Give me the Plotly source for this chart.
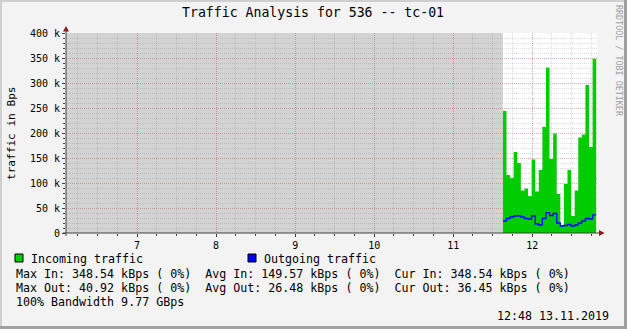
import plotly.graph_objects as go

# ---- data (kB/s) ----
incoming_k = [244, 116, 110, 162, 140, 85, 89, 74, 147, 83, 126, 212, 331,
              148, 199, 78, 16, 98, 126, 34, 85, 191, 197, 296, 172, 348.54]
outgoing_k = [24, 29, 32, 34, 34, 32, 29, 28, 34, 18, 16, 29, 40.92,
              35, 39, 20, 14, 15, 17, 14, 16, 20, 24, 29, 28, 36.45]
data_start_h = 11.629          # hour of day when data starts
sample_step_h = 0.04542        # sample interval in hours
x_range_h = [6.10, 12.82]
hour_ticks = [7, 8, 9, 10, 11, 12]
y_ticks_k = [0, 50, 100, 150, 200, 250, 300, 350, 400]
y_tick_text = ["0", "50 k", "100 k", "150 k", "200 k", "250 k", "300 k", "350 k", "400 k"]

title = "Traffic Analysis for 536 -- tc-01"
y_title = "traffic in Bps"
legend_in = "Incoming traffic"
legend_out = "Outgoing traffic"
stats_lines = [
    "Max In: 348.54 kBps ( 0%)  Avg In: 149.57 kBps ( 0%)  Cur In: 348.54 kBps ( 0%)",
    "Max Out: 40.92 kBps ( 0%)  Avg Out: 26.48 kBps ( 0%)  Cur Out: 36.45 kBps ( 0%)",
    "100% Bandwidth 9.77 GBps",
]
stamp = "12:48 13.11.2019"
side_text = "RRDTOOL / TOBI OETIKER"

# ---- layout geometry (pixels) ----
W, H = 627, 329
L, R, T, B = 66, 597, 33, 233
FONT = "DejaVu Sans Mono"


def px(x, y):
    return (x - L) / (R - L), (B - y) / (B - T)


n = len(incoming_k)
xs = [data_start_h + i * sample_step_h for i in range(n + 1)]
yin = [v * 1000 for v in incoming_k] + [incoming_k[-1] * 1000]
yout = [v * 1000 for v in outgoing_k] + [outgoing_k[-1] * 1000]

fig = go.Figure()
fig.add_trace(go.Scatter(x=xs, y=yin, mode="lines", line=dict(shape="hv", width=0, color="#00CC00"),
                         fill="tozeroy", fillcolor="#00CC00", showlegend=False, hoverinfo="skip"))
fig.add_trace(go.Scatter(x=xs, y=yout, mode="lines", line=dict(shape="hv", width=1.3, color="#0000FF"),
                         showlegend=False, hoverinfo="skip"))

shapes = []
# unknown-data gray region
shapes.append(dict(type="rect", xref="x", yref="y", x0=x_range_h[0], x1=data_start_h,
                   y0=0, y1=400000, fillcolor="#D3D3D3", line=dict(width=0), layer="below"))
# axis lines
shapes.append(dict(type="line", xref="paper", yref="paper", x0=px(63, 0)[0], x1=px(600, 0)[0],
                   y0=0, y1=0, line=dict(color="#404040", width=1)))
shapes.append(dict(type="line", xref="paper", yref="paper", x0=0, x1=0,
                   y0=px(0, 236)[1], y1=px(0, 30)[1], line=dict(color="#404040", width=1)))


def tri(pts):
    p = [px(*q) for q in pts]
    return "M {} {} L {} {} L {} {} Z".format(p[0][0], p[0][1], p[1][0], p[1][1], p[2][0], p[2][1])


shapes.append(dict(type="path", xref="paper", yref="paper", path=tri([(66, 26), (63, 31.5), (69, 31.5)]),
                   fillcolor="#8B1A1A", line=dict(width=0)))
shapes.append(dict(type="path", xref="paper", yref="paper", path=tri([(604.5, 233), (599, 230), (599, 236)]),
                   fillcolor="#8B1A1A", line=dict(width=0)))
# legend squares
for (xa, col) in [(15, "#00CC00"), (248, "#0000FF")]:
    a = px(xa, 262)
    b = px(xa + 8, 254)
    shapes.append(dict(type="rect", xref="paper", yref="paper", x0=a[0], y0=a[1], x1=b[0], y1=b[1],
                       fillcolor=col, line=dict(color="#000000", width=1)))


def rect(x0, y0, x1, y1, col):
    a = px(x0, y1)
    b = px(x1, y0)
    return dict(type="rect", xref="paper", yref="paper", x0=a[0], y0=a[1], x1=b[0], y1=b[1],
                fillcolor=col, line=dict(width=0))


shapes.append(rect(0, 0, W, 2, "#CFCFCF"))
shapes.append(rect(0, 0, 2, H, "#CFCFCF"))
shapes.append(rect(W - 3, 0, W, H, "#A0A0A0"))
shapes.append(rect(0, H - 3, W, H, "#A0A0A0"))

annotations = []


def text(x, y, s, size=11.65, anchor="left", color="#000000", angle=0, yanchor="middle"):
    p = px(x, y)
    annotations.append(dict(x=p[0], y=p[1], xref="paper", yref="paper", text=s, showarrow=False,
                            xanchor=anchor, yanchor=yanchor, borderpad=0, textangle=angle,
                            font=dict(family=FONT, size=size, color=color)))


text(313, 13, title, size=13.2, anchor="center")
text(11, 133, y_title, size=11.1, anchor="center", angle=-90)
text(619, 4, side_text, size=8.4, anchor="center", color="#A0A0A0", angle=90, yanchor="top")
text(30, 258.5, legend_in)
text(263, 258.5, legend_out)
for i, s in enumerate(stats_lines):
    text(15, 273.5 + 14 * i, s.replace(" ", "\u00a0"))
text(610, 316, stamp, anchor="right")

MAJOR = "rgba(225,70,70,0.32)"
MINOR = "rgba(128,128,128,0.28)"

fig.update_layout(
    width=W, height=H, margin=dict(l=L, r=W - R, t=T, b=H - B),
    paper_bgcolor="#F3F3F3", plot_bgcolor="#FFFFFF",
    shapes=shapes, annotations=annotations,
    font=dict(family=FONT, size=10, color="#000000"),
    xaxis=dict(range=x_range_h, tickvals=hour_ticks, ticktext=[str(h) for h in hour_ticks],
               showgrid=True, gridcolor=MAJOR, griddash="1px,1px", gridwidth=1,
               ticks="outside", ticklen=3, tickcolor="#404040", zeroline=False, showline=False,
               tickfont=dict(family=FONT, size=10),
               minor=dict(dtick=0.25, tick0=6, showgrid=True, gridcolor=MINOR,
                          griddash="1px,1px", ticks="outside", ticklen=2, tickcolor="#404040")),
    yaxis=dict(range=[0, 400000], tickvals=[v * 1000 for v in y_ticks_k], ticktext=y_tick_text,
               showgrid=True, gridcolor=MAJOR, griddash="1px,1px", gridwidth=1,
               ticks="outside", ticklen=3, tickcolor="#404040", zeroline=False, showline=False,
               tickfont=dict(family=FONT, size=10),
               minor=dict(dtick=10000, tick0=0, showgrid=True, gridcolor=MINOR,
                          griddash="1px,1px", ticks="outside", ticklen=2, tickcolor="#404040")),
)

fig.write_html("out.html")
